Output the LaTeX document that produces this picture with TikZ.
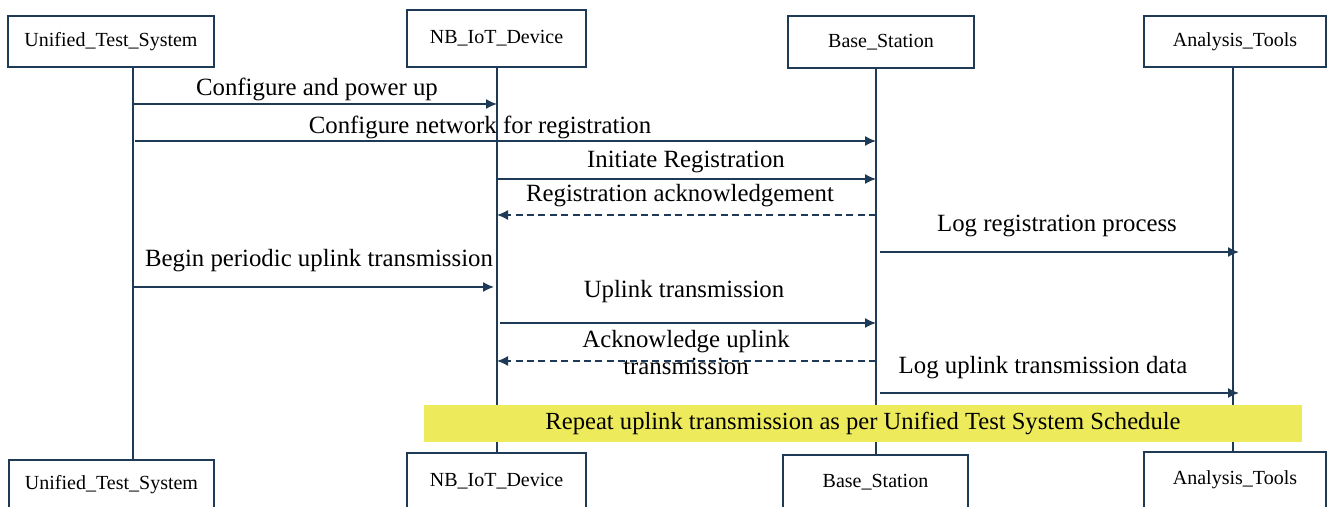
\documentclass[tikz,border=0pt]{standalone}
\usepackage{fontspec}
\setmainfont{Liberation Serif}
\usetikzlibrary{arrows.meta}

\definecolor{ink}{HTML}{1F3A57}
\definecolor{notefill}{HTML}{EDEA5C}

\begin{document}
\begin{tikzpicture}[x=0.5pt,y=-0.5pt,
  actor/.style={draw=ink, line width=0.7pt, fill=white, inner sep=0pt,
    font=\fontsize{10}{12}\selectfont},
  lifeline/.style={draw=ink, line width=0.75pt},
  msg/.style={draw=ink, line width=0.75pt, -{Latex[length=5.5pt,width=5pt]}},
  reply/.style={msg, dash pattern=on 3.5pt off 2.2pt},
  lbl/.style={inner sep=0pt, font=\fontsize{12.4}{13.5}\selectfont, align=center},
  note/.style={fill=notefill, inner sep=0pt, minimum width=439pt, minimum height=18.5pt,
    font=\fontsize{12.3}{14}\selectfont}
]
\useasboundingbox (0,0) rectangle (1330,507);
\fill[white] (0,0) rectangle (1330,507);

% lifeline positions
\coordinate (xU) at (133,0);
\coordinate (xN) at (497,0);
\coordinate (xB) at (876,0);
\coordinate (xA) at (1233,0);

% actors, top row
\node[actor, minimum width=103pt, minimum height=25.5pt] (uTop) at (111,41.5) {Unified\_Test\_System};
\node[actor, minimum width=89.5pt, minimum height=28.5pt] (nTop) at (496.5,38.5) {NB\_IoT\_Device};
\node[actor, minimum width=93pt, minimum height=26pt] (bTop) at (881,42) {Base\_Station};
\node[actor, minimum width=91pt, minimum height=25.5pt] (aTop) at (1235,41.5) {Analysis\_Tools};

% actors, bottom row
\node[actor, minimum width=102.5pt, minimum height=25pt] (uBot) at (111.5,485) {Unified\_Test\_System};
\node[actor, minimum width=89.5pt, minimum height=28.5pt] (nBot) at (496.5,481.5) {NB\_IoT\_Device};
\node[actor, minimum width=92.5pt, minimum height=27.5pt] (bBot) at (875.5,482.5) {Base\_Station};
\node[actor, minimum width=91pt, minimum height=28pt] (aBot) at (1235,480) {Analysis\_Tools};

% lifelines
\draw[lifeline] (xU |- uTop.south) -- (xU |- uBot.north);
\draw[lifeline] (xN |- nTop.south) -- (xN |- nBot.north);
\draw[lifeline] (xB |- bTop.south) -- (xB |- bBot.north);
\draw[lifeline] (xA |- aTop.south) -- (xA |- aBot.north);

% messages
\draw[msg] (xU |- 0,104) -- (xN |- 0,104);
\node[lbl] (l1) at (317,89) {Configure and power up};

\draw[msg] ([xshift=1pt]xU |- 0,141) -- (xB |- 0,141);
\node[lbl] (l2) at (480,127) {Configure network for registration};

\draw[msg] (xN |- 0,179) -- (xB |- 0,179);
\node[lbl] (l3) at (686,162) {Initiate Registration};

\draw[reply] (xB |- 0,215) -- (xN |- 0,215);
\node[lbl] (l4) at (680,196) {Registration acknowledgement};

\draw[msg] ([xshift=2pt]xB |- 0,252) -- ([xshift=3pt]xA |- 0,252);
\node[lbl] (l5) at (1057,226) {Log registration process};

\draw[msg] (xU |- 0,287) -- ([xshift=-1.5pt]xN |- 0,287);
\node[lbl] (l6) at (319,261) {Begin periodic uplink transmission};

\draw[msg] ([xshift=1.5pt]xN |- 0,323) -- (xB |- 0,323);
\node[lbl] (l7) at (684,292) {Uplink transmission};

\draw[reply] (xB |- 0,361) -- (xN |- 0,361);
\node[lbl] (l8) at (686,353) {Acknowledge uplink\\transmission};

\draw[msg] ([xshift=2pt]xB |- 0,393) -- ([xshift=3pt]xA |- 0,393);
\node[lbl] (l9) at (1043,368) {Log uplink transmission data};

% repeat note
\node[note] (rep) at (863,423.5) {Repeat uplink transmission as per Unified Test System Schedule};
\end{tikzpicture}
\end{document}
